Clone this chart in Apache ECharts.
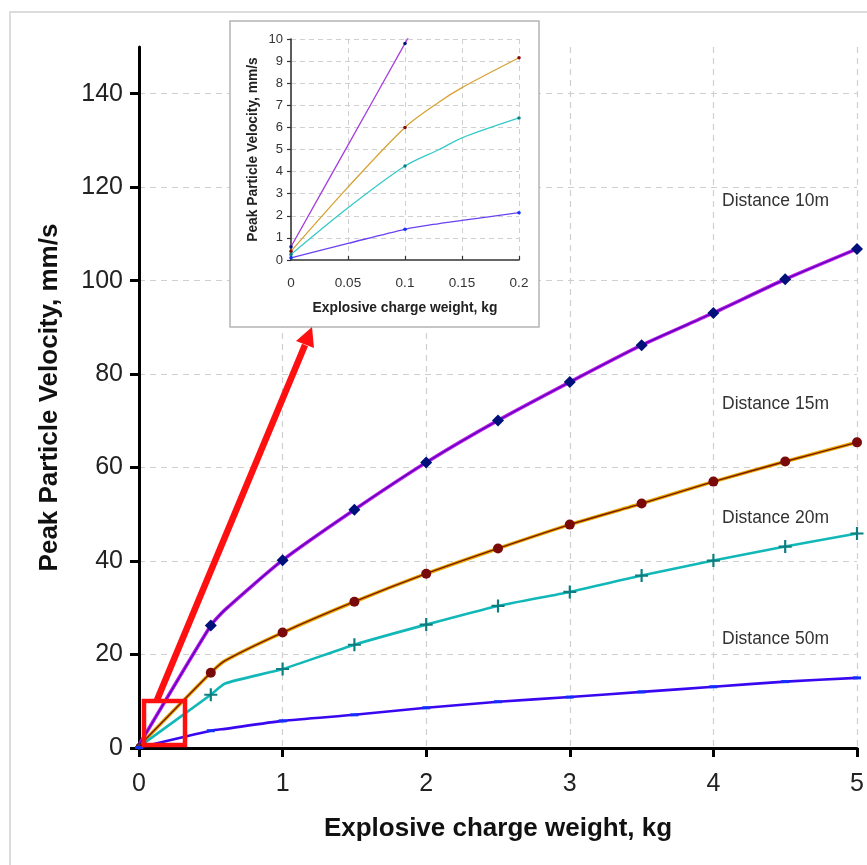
<!DOCTYPE html>
<html><head><meta charset="utf-8">
<script src="https://cdn.jsdelivr.net/npm/echarts@6/dist/echarts.min.js"></script>
<style>html,body{margin:0;padding:0;background:#fff}#c{width:867px;height:865px}</style>
</head><body><div id="c"></div>
<script>
// ---- main chart data (charge weight kg -> PPV mm/s) ----
const weightsMain = [0, 0.5, 0.6, 1, 1.5, 2, 2.5, 3, 3.5, 4, 4.5, 5];
const ppv10Main = [0.6, 26.2, 29.6, 40.2, 51.0, 61.1, 70.1, 78.3, 86.2, 93.1, 100.3, 106.8];
const ppv15Main = [0.4, 16.1, 18.7, 24.7, 31.3, 37.3, 42.7, 47.8, 52.3, 57.0, 61.3, 65.4];
const ppv20Main = [0.25, 11.4, 13.8, 16.9, 22.1, 26.4, 30.4, 33.4, 36.9, 40.1, 43.1, 45.9];
const ppv50Main = [0.1, 3.7, 4.1, 5.8, 7.1, 8.6, 9.9, 10.9, 12.0, 13.1, 14.2, 15.0];
// ---- inset data (zoom 0 - 0.2 kg) ----
const weightsInset = [0, 0.05, 0.1, 0.13, 0.15, 0.2];
const ppv10Inset = [0.6, 5.2, 9.8, 12.6, 13.9, 17.5];
const ppv15Inset = [0.4, 3.3, 6.0, 7.15, 7.8, 9.15];
const ppv20Inset = [0.25, 2.36, 4.25, 5.0, 5.53, 6.43];
const ppv50Inset = [0.1, 0.75, 1.39, 1.65, 1.79, 2.14];
// ---- ticks / labels ----
const xTicksMain = [0, 1, 2, 3, 4, 5];
const yTicksMain = [0, 20, 40, 60, 80, 100, 120, 140];
const distanceLabels = ['Distance 10m', 'Distance 15m', 'Distance 20m', 'Distance 50m'];

const FONT = "'Liberation Sans', Arial, sans-serif";
const PLUS = 'path://M-1,-6L1,-6L1,-1L6,-1L6,1L1,1L1,6L-1,6L-1,1L-6,1L-6,-1L-1,-1Z';

function mainData(vals, symbol, size, showAt) {
  return weightsMain.map((w, i) => {
    const marked = showAt(w);
    return {value: [w, vals[i]], symbol: marked ? symbol : 'none',
            symbolSize: w === 0 ? (Array.isArray(size) ? size : 6) : size};
  });
}
const onHalf = w => Math.abs(w * 2 - Math.round(w * 2)) < 1e-9;
function insetData(vals) {
  return weightsInset.map((w, i) => ({value: [w, vals[i]],
    symbol: (w === 0 || w === 0.1 || w === 0.2) ? 'circle' : 'none'}));
}

const chart = echarts.init(document.getElementById('c'), null, {renderer: 'canvas'});

const mainSeries = [
  {name: '10m under', type: 'line', xAxisIndex: 0, yAxisIndex: 0, smooth: 0.2, symbol: 'none',
   lineStyle: {color: '#c21ee6', width: 3.6}, data: mainData(ppv10Main, 'none', 0, () => false), z: 2},
  {name: 'Distance 10m', type: 'line', xAxisIndex: 0, yAxisIndex: 0, smooth: 0.2,
   lineStyle: {color: '#5a00c0', width: 1.5}, itemStyle: {color: '#00107a'},
   data: mainData(ppv10Main, 'diamond', 12, onHalf), z: 3},
  {name: '15m under', type: 'line', xAxisIndex: 0, yAxisIndex: 0, smooth: 0.2, symbol: 'none',
   lineStyle: {color: '#e8a800', width: 3.6}, data: mainData(ppv15Main, 'none', 0, () => false), z: 2},
  {name: 'Distance 15m', type: 'line', xAxisIndex: 0, yAxisIndex: 0, smooth: 0.2,
   lineStyle: {color: '#7a1800', width: 1.4}, itemStyle: {color: '#7a0a0a'},
   data: mainData(ppv15Main, 'circle', 10, onHalf), z: 3},
  {name: 'Distance 20m', type: 'line', xAxisIndex: 0, yAxisIndex: 0, smooth: 0.2,
   lineStyle: {color: '#12b8b8', width: 2.6}, itemStyle: {color: '#0b7f7f'},
   data: mainData(ppv20Main, PLUS, 13, onHalf), z: 3},
  {name: 'Distance 50m', type: 'line', xAxisIndex: 0, yAxisIndex: 0, smooth: 0.2,
   lineStyle: {color: '#3a08f0', width: 2.6}, itemStyle: {color: '#1030ff'},
   data: mainData(ppv50Main, 'rect', [8, 3], onHalf), z: 3}
];

const insetStyles = [
  [ppv10Inset, '#a53ee0', '#00107a'],
  [ppv15Inset, '#d6a232', '#8a0a0a'],
  [ppv20Inset, '#35c9c9', '#0b7f7f'],
  [ppv50Inset, '#6a42f0', '#1030ff']
];
const insetSeries = insetStyles.map(([vals, lc, mc], k) => ({
  name: 'inset' + k, type: 'line', xAxisIndex: 1, yAxisIndex: 1, smooth: 0.3,
  symbolSize: 3.5, clip: true, lineStyle: {color: lc, width: 1.3}, itemStyle: {color: mc},
  data: insetData(vals), z: 12
}));

const labelPos = [[722, 203], [722, 406], [722, 520], [722, 641]];

chart.setOption({
  backgroundColor: '#fff',
  animation: false,
  grid: [
    {left: 139, right: 10, top: 47, bottom: 117, containLabel: false},
    {left: 291, right: 348, top: 39, bottom: 605, containLabel: false, z: 10}
  ],
  xAxis: [
    {type: 'value', gridIndex: 0, min: 0, max: 5, interval: 1,
     name: 'Explosive charge weight, kg', nameLocation: 'middle', nameGap: 68,
     nameTextStyle: {fontFamily: FONT, fontSize: 26, fontWeight: 'bold', color: '#111'},
     axisLine: {show: true, onZero: false, lineStyle: {color: '#000', width: 3}},
     axisTick: {show: true, length: 9, lineStyle: {color: '#000', width: 3}},
     axisLabel: {fontFamily: FONT, fontSize: 25, color: '#222', margin: 24},
     splitLine: {show: true, showMinLine: false, lineStyle: {color: '#cfcfcf', type: [6, 5], width: 1.2}}},
    {type: 'value', gridIndex: 1, min: 0, max: 0.2, interval: 0.05, z: 11,
     name: 'Explosive charge weight, kg', nameLocation: 'middle', nameGap: 41,
     nameTextStyle: {fontFamily: FONT, fontSize: 13.8, fontWeight: 'bold', color: '#222'},
     axisLine: {show: true, onZero: false, lineStyle: {color: '#333', width: 1.6}},
     axisTick: {show: true, inside: true, length: 4, lineStyle: {color: '#333', width: 1.2}},
     axisLabel: {fontFamily: FONT, fontSize: 13.5, color: '#333', margin: 16},
     splitLine: {show: true, showMinLine: false, lineStyle: {color: '#d0d0d0', type: [5, 4], width: 1}}}
  ],
  yAxis: [
    {type: 'value', gridIndex: 0, min: 0, max: 150, interval: 20,
     name: 'Peak Particle Velocity, mm/s', nameLocation: 'middle', nameGap: 76,
     nameTextStyle: {fontFamily: FONT, fontSize: 26, fontWeight: 'bold', color: '#111'},
     axisLine: {show: true, onZero: false, lineStyle: {color: '#000', width: 3}},
     axisTick: {show: true, length: 9, customValues: yTicksMain, lineStyle: {color: '#000', width: 3}},
     axisLabel: {fontFamily: FONT, fontSize: 25, color: '#222', margin: 16, customValues: yTicksMain},
     splitLine: {show: true, showMinLine: false, showMaxLine: true,
                 lineStyle: {color: '#cfcfcf', type: [6, 5], width: 1.2}}},
    {type: 'value', gridIndex: 1, min: 0, max: 10, interval: 1, z: 11,
     name: 'Peak Particle Velocity, mm/s', nameLocation: 'middle', nameGap: 31,
     nameTextStyle: {fontFamily: FONT, fontSize: 13.8, fontWeight: 'bold', color: '#222'},
     axisLine: {show: true, onZero: false, lineStyle: {color: '#333', width: 1.6}},
     axisTick: {show: true, length: 4, lineStyle: {color: '#333', width: 1.2}},
     axisLabel: {fontFamily: FONT, fontSize: 13, color: '#333', margin: 8},
     splitLine: {show: true, showMinLine: false, lineStyle: {color: '#d0d0d0', type: [5, 4], width: 1}}}
  ],
  graphic: [
    {type: 'rect', z: -10, silent: true, shape: {x: 10, y: 12, width: 900, height: 900},
     style: {fill: 'none', stroke: '#dcdcdc', lineWidth: 2}},
    {type: 'rect', z: 8, silent: true, shape: {x: 230, y: 21, width: 309, height: 306},
     style: {fill: '#fff', stroke: '#b4b4b4', lineWidth: 1.5}},
    {type: 'rect', z: 20, silent: true, shape: {x: 144, y: 701, width: 41, height: 44},
     style: {fill: 'none', stroke: '#ff1010', lineWidth: 4.5}},
    {type: 'line', z: 20, silent: true, shape: {x1: 157, y1: 700, x2: 305, y2: 345},
     style: {stroke: '#ff1010', lineWidth: 6.5}},
    {type: 'polygon', z: 20, silent: true, shape: {points: [[312, 327], [296, 341], [314, 348]]},
     style: {fill: '#ff1010'}},
    ...distanceLabels.map((t, i) => ({type: 'text', z: 20, silent: true,
      left: labelPos[i][0], top: labelPos[i][1] - 11,
      style: {text: t, fontFamily: FONT, fontSize: 17.5, fill: '#333'}}))
  ],
  series: [...mainSeries, ...insetSeries]
});
</script></body></html>
